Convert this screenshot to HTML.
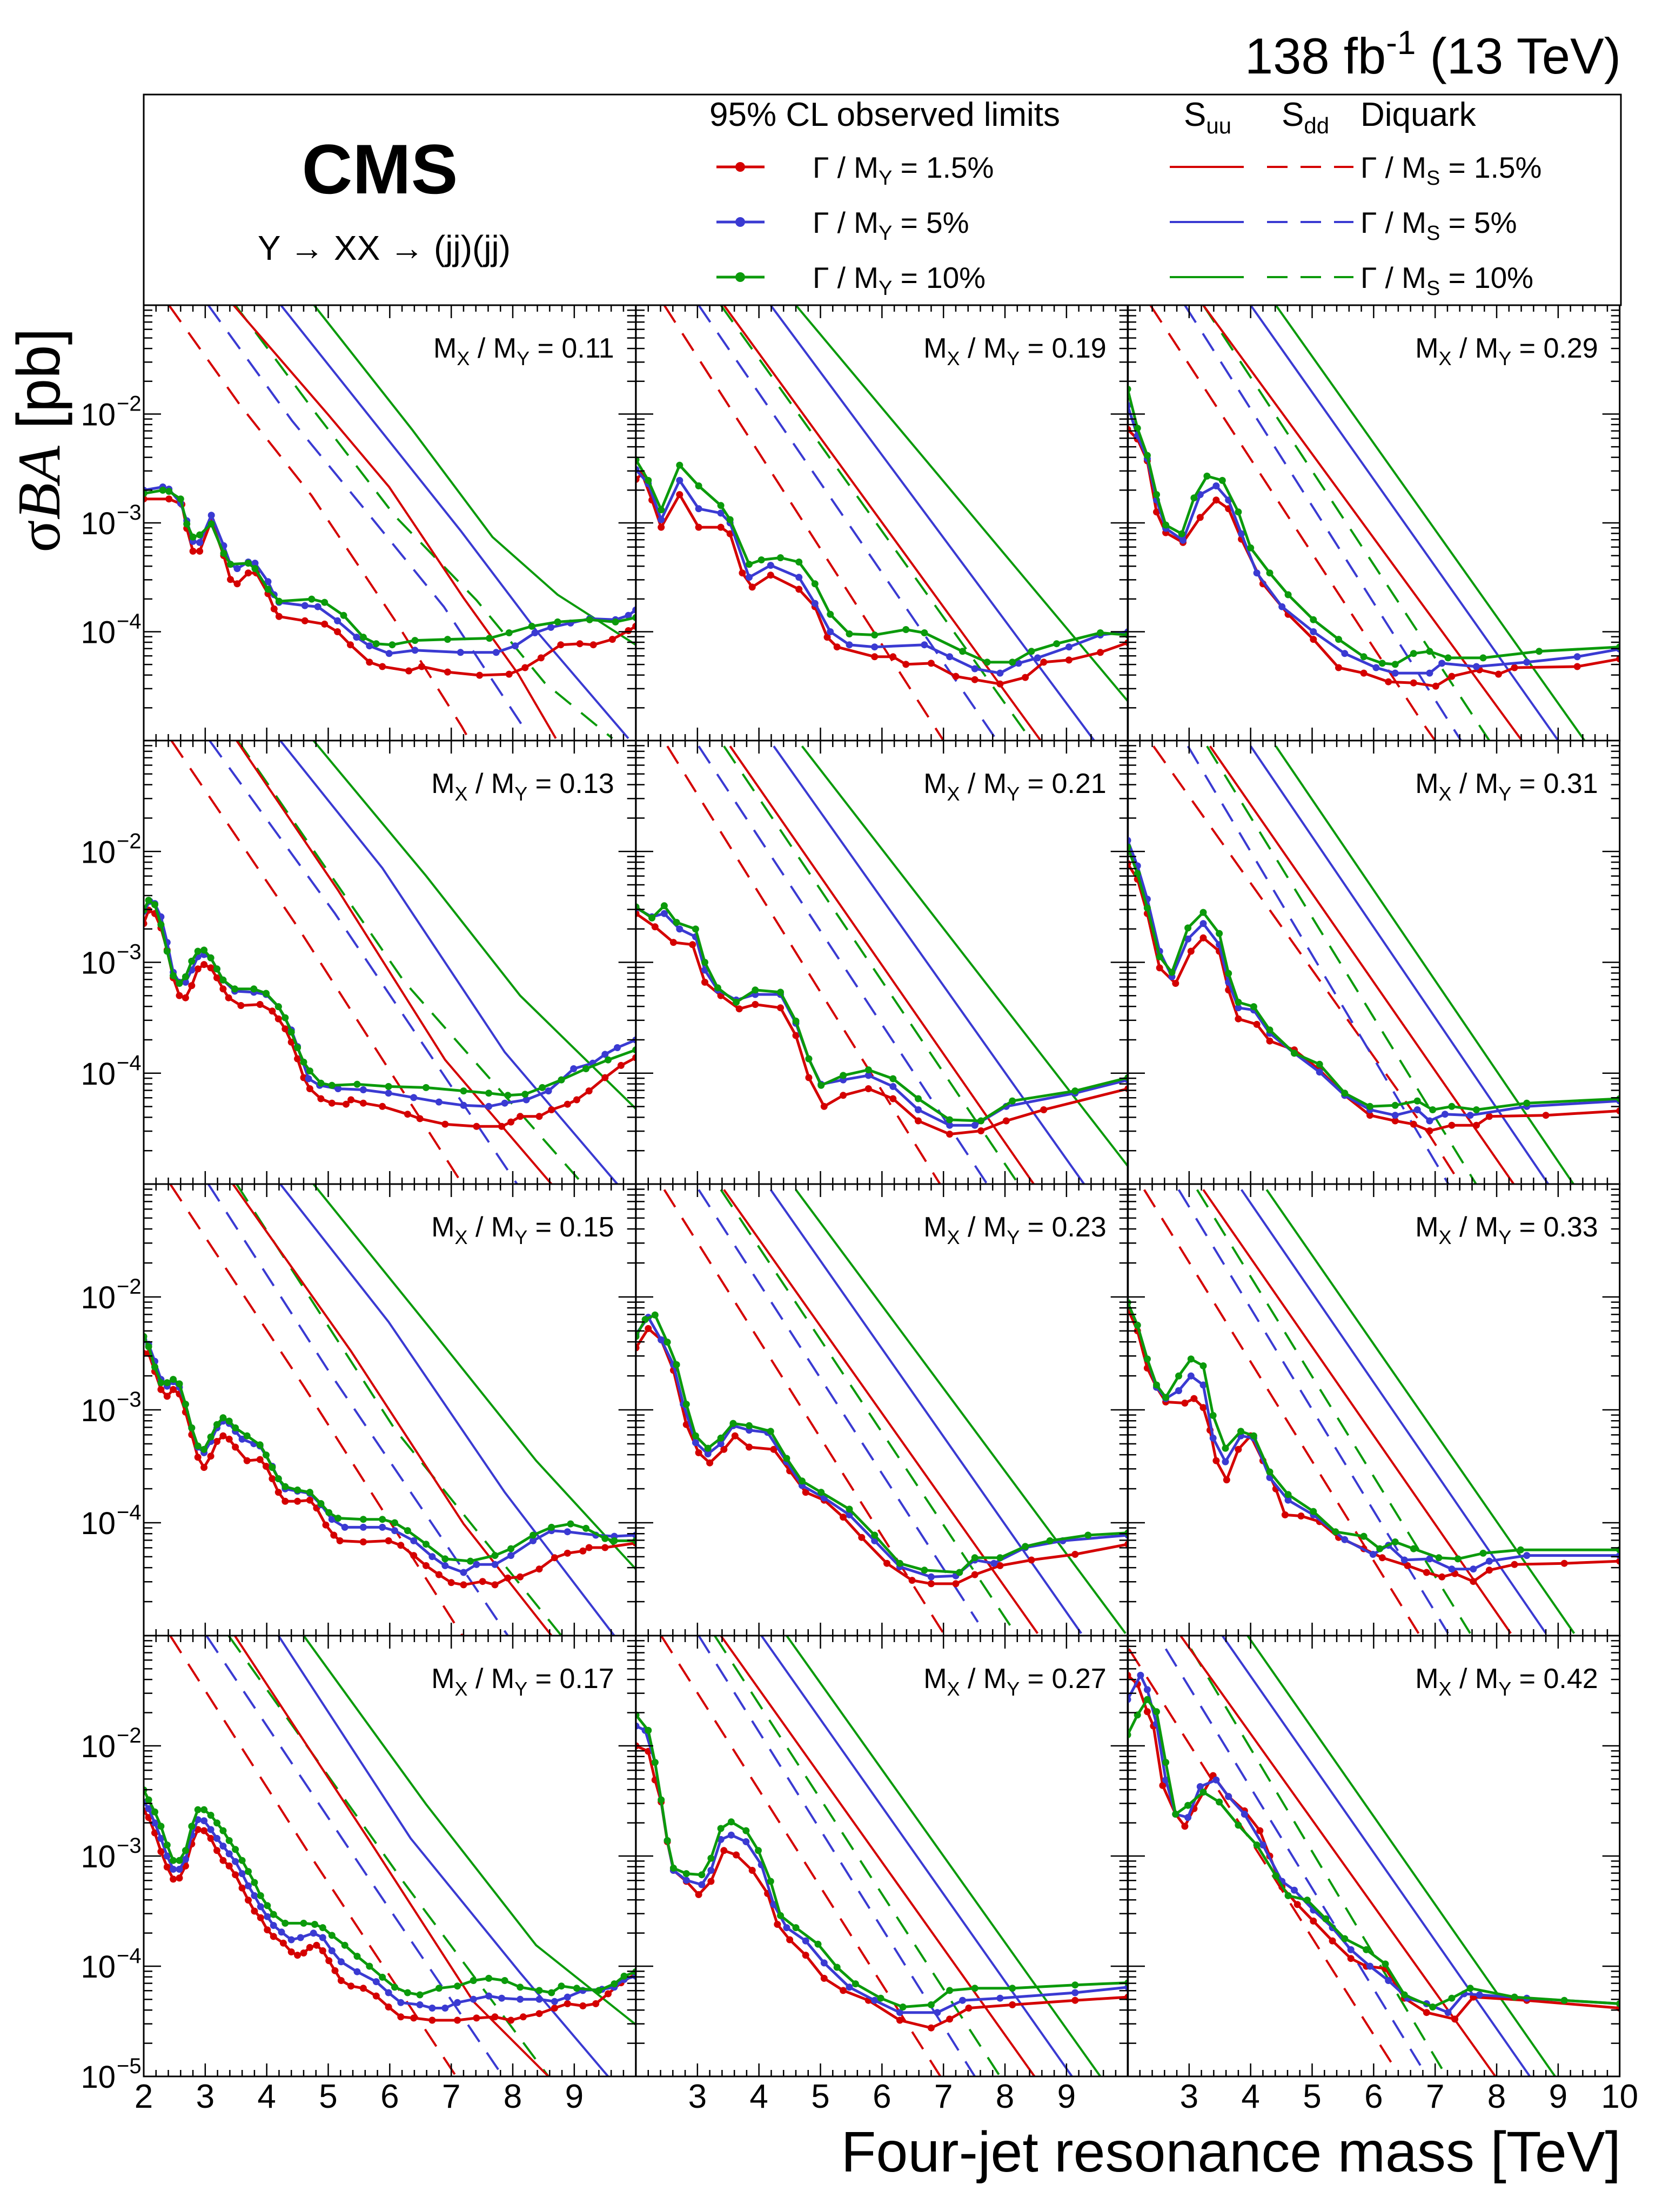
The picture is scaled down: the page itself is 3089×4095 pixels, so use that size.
<!DOCTYPE html>
<html><head><meta charset="utf-8"><title>Y to XX to (jj)(jj) limits</title>
<style>
html,body{margin:0;padding:0;background:#fff;}
svg{display:block;}
text{font-family:"Liberation Sans",sans-serif;fill:#000;}
</style></head>
<body>
<svg id="fig" xmlns="http://www.w3.org/2000/svg" width="3089" height="4095" viewBox="0 0 3089 4095">
  <rect x="0" y="0" width="3089" height="4095" fill="#fff"/>
  <text x="3000" y="136" font-size="94" text-anchor="end">138 fb<tspan dy="-36" font-size="62">-1</tspan><tspan dy="36"> (13 TeV)</tspan></text>
  <g>
    <rect x="266" y="175" width="2734" height="390" fill="none" stroke="#000" stroke-width="3"/>
    <text x="703" y="358" font-size="130" font-weight="bold" text-anchor="middle">CMS</text>
    <text x="711" y="481" font-size="64" text-anchor="middle">Y → XX → (jj)(jj)</text>
    <text x="1313" y="233" font-size="62">95% CL observed limits</text>
    <text x="2191" y="233" font-size="62">S<tspan dy="14" font-size="42">uu</tspan></text>
    <text x="2372" y="233" font-size="62">S<tspan dy="14" font-size="42">dd</tspan></text>
    <text x="2518" y="233" font-size="62">Diquark</text>
  </g>
  <g id="legend-entries"></g>
  <g id="panels"></g>
  <text transform="translate(110,815) rotate(-90)" font-size="112" text-anchor="middle"><tspan font-family="Liberation Serif, serif">σ</tspan><tspan font-family="Liberation Serif, serif" font-style="italic">BA</tspan><tspan> [pb]</tspan></text>
  <text x="3000" y="4020" font-size="106" text-anchor="end">Four-jet resonance mass [TeV]</text>
</svg>
<script>
// ---------- panel labels ----------
const ratioLabels = ['0.11','0.13','0.15','0.17','0.19','0.21','0.23','0.27','0.29','0.31','0.33','0.42'];
// observed limits: [mass TeV, log10(sigma*B*A / pb)]
const p11R=[[2,-2.78],[2.41,-2.78],[2.62,-2.83],[2.7,-3.05],[2.8,-3.26],[2.91,-3.26],[3.1,-2.98],[3.3,-3.30],[3.41,-3.52],[3.52,-3.56],[3.7,-3.46],[3.83,-3.46],[4.02,-3.65],[4.12,-3.79],[4.2,-3.86],[4.62,-3.9],[4.94,-3.93],[5.15,-4.0],[5.36,-4.12],[5.67,-4.28],[5.88,-4.32],[6.31,-4.36],[6.52,-4.32],[6.94,-4.37],[7.46,-4.4],[7.94,-4.39],[8.2,-4.33],[8.46,-4.24],[8.78,-4.12],[9.09,-4.11],[9.31,-4.12],[9.62,-4.07],[9.88,-3.99],[10,-3.95]];
const p11B=[[2,-2.70],[2.31,-2.67],[2.41,-2.69],[2.6,-2.82],[2.7,-2.98],[2.8,-3.17],[2.91,-3.18],[3.1,-2.93],[3.3,-3.21],[3.41,-3.38],[3.52,-3.42],[3.7,-3.36],[3.81,-3.37],[4.02,-3.54],[4.12,-3.66],[4.2,-3.73],[4.62,-3.76],[4.83,-3.77],[5.15,-3.9],[5.46,-4.05],[5.67,-4.13],[5.99,-4.2],[6.41,-4.17],[7.15,-4.19],[7.73,-4.19],[8.04,-4.13],[8.36,-4.01],[8.62,-3.96],[8.94,-3.92],[9.25,-3.88],[9.67,-3.89],[9.88,-3.85],[10,-3.8]];
const p11G=[[2,-2.73],[2.31,-2.7],[2.41,-2.71],[2.6,-2.78],[2.7,-3.01],[2.8,-3.13],[2.91,-3.11],[3.1,-3.01],[3.3,-3.28],[3.41,-3.38],[3.7,-3.37],[3.81,-3.42],[4.02,-3.61],[4.2,-3.72],[4.73,-3.7],[4.94,-3.73],[5.25,-3.85],[5.57,-4.05],[5.78,-4.11],[6.04,-4.12],[6.41,-4.08],[6.94,-4.07],[7.62,-4.06],[7.94,-4.01],[8.31,-3.95],[8.73,-3.91],[9.25,-3.89],[9.67,-3.91],[10,-3.87]];
const p13R=[[2,-2.65],[2.08,-2.53],[2.18,-2.56],[2.28,-2.69],[2.38,-2.89],[2.48,-3.14],[2.58,-3.3],[2.68,-3.32],[2.78,-3.21],[2.88,-3.06],[2.98,-3.02],[3.09,-3.05],[3.19,-3.14],[3.29,-3.24],[3.38,-3.32],[3.58,-3.39],[3.89,-3.38],[4.09,-3.44],[4.19,-3.51],[4.3,-3.6],[4.4,-3.72],[4.5,-3.87],[4.6,-4.04],[4.7,-4.14],[4.88,-4.23],[5.06,-4.27],[5.29,-4.28],[5.37,-4.24],[5.57,-4.27],[5.88,-4.3],[6.29,-4.37],[6.49,-4.41],[6.9,-4.46],[7.41,-4.48],[7.82,-4.48],[7.97,-4.44],[8.12,-4.39],[8.43,-4.39],[8.63,-4.33],[8.89,-4.28],[9.04,-4.24],[9.24,-4.16],[9.5,-4.04],[9.76,-3.93],[10,-3.86]];
const p13B=[[2,-2.54],[2.1,-2.45],[2.18,-2.47],[2.28,-2.59],[2.38,-2.82],[2.48,-3.09],[2.58,-3.18],[2.68,-3.18],[2.78,-3.07],[2.88,-2.95],[2.98,-2.93],[3.09,-2.96],[3.19,-3.06],[3.29,-3.16],[3.48,-3.26],[3.79,-3.27],[3.99,-3.29],[4.19,-3.4],[4.4,-3.61],[4.5,-3.76],[4.68,-4.05],[4.86,-4.11],[5.16,-4.14],[5.57,-4.15],[5.98,-4.18],[6.39,-4.22],[6.8,-4.26],[7.2,-4.29],[7.61,-4.3],[7.87,-4.27],[8.22,-4.24],[8.58,-4.16],[8.79,-4.06],[8.99,-3.96],[9.3,-3.91],[9.5,-3.83],[9.7,-3.77],[10,-3.7]];
const p13G=[[2,-2.53],[2.08,-2.44],[2.18,-2.48],[2.28,-2.66],[2.38,-2.9],[2.48,-3.12],[2.58,-3.19],[2.68,-3.13],[2.78,-2.99],[2.88,-2.9],[2.98,-2.89],[3.09,-2.96],[3.19,-3.06],[3.29,-3.16],[3.48,-3.24],[3.79,-3.24],[3.99,-3.28],[4.19,-3.4],[4.3,-3.5],[4.4,-3.63],[4.5,-3.77],[4.6,-3.9],[4.7,-3.98],[4.88,-4.09],[5.06,-4.11],[5.47,-4.1],[5.98,-4.12],[6.59,-4.13],[7.2,-4.16],[7.61,-4.18],[7.92,-4.2],[8.2,-4.19],[8.48,-4.13],[8.79,-4.06],[9.19,-3.96],[9.55,-3.88],[10,-3.79]];
const p15R=[[2,-2.5],[2.08,-2.5],[2.18,-2.66],[2.28,-2.82],[2.38,-2.88],[2.48,-2.82],[2.58,-2.86],[2.68,-3.02],[2.78,-3.22],[2.88,-3.42],[2.98,-3.51],[3.09,-3.41],[3.19,-3.28],[3.29,-3.23],[3.39,-3.26],[3.49,-3.33],[3.68,-3.45],[3.89,-3.44],[3.99,-3.5],[4.09,-3.61],[4.19,-3.73],[4.3,-3.81],[4.5,-3.81],[4.7,-3.8],[4.81,-3.87],[4.96,-4.02],[5.09,-4.11],[5.19,-4.16],[5.57,-4.17],[5.98,-4.16],[6.18,-4.2],[6.39,-4.29],[6.59,-4.38],[6.8,-4.46],[7.0,-4.53],[7.2,-4.55],[7.51,-4.52],[7.71,-4.55],[7.92,-4.49],[8.12,-4.48],[8.43,-4.41],[8.68,-4.31],[8.89,-4.27],[9.14,-4.25],[9.24,-4.22],[9.5,-4.22],[10,-4.18]];
const p15B=[[2,-2.38],[2.08,-2.42],[2.18,-2.57],[2.28,-2.73],[2.38,-2.79],[2.48,-2.75],[2.58,-2.8],[2.68,-2.95],[2.78,-3.16],[2.88,-3.33],[2.98,-3.38],[3.09,-3.28],[3.19,-3.16],[3.29,-3.1],[3.39,-3.12],[3.49,-3.19],[3.6,-3.26],[3.79,-3.3],[3.89,-3.32],[4.09,-3.5],[4.19,-3.61],[4.3,-3.7],[4.5,-3.72],[4.7,-3.74],[4.88,-3.84],[5.06,-3.97],[5.27,-4.04],[5.57,-4.04],[5.88,-4.04],[6.08,-4.07],[6.39,-4.16],[6.69,-4.3],[6.9,-4.38],[7.2,-4.44],[7.41,-4.37],[7.71,-4.37],[7.97,-4.29],[8.33,-4.16],[8.63,-4.07],[8.89,-4.08],[9.35,-4.11],[9.65,-4.12],[10,-4.11]];
const p15G=[[2,-2.35],[2.08,-2.44],[2.18,-2.62],[2.28,-2.76],[2.38,-2.76],[2.48,-2.73],[2.58,-2.77],[2.68,-2.95],[2.78,-3.16],[2.88,-3.32],[2.98,-3.35],[3.09,-3.24],[3.19,-3.13],[3.29,-3.07],[3.39,-3.1],[3.49,-3.16],[3.68,-3.23],[3.89,-3.31],[3.99,-3.4],[4.09,-3.51],[4.19,-3.61],[4.3,-3.68],[4.5,-3.71],[4.7,-3.73],[4.88,-3.83],[5.01,-3.91],[5.16,-3.96],[5.57,-3.97],[5.88,-3.97],[6.08,-4.0],[6.29,-4.07],[6.59,-4.19],[6.9,-4.32],[7.31,-4.34],[7.71,-4.29],[7.97,-4.23],[8.33,-4.11],[8.63,-4.04],[8.94,-4.01],[9.19,-4.05],[9.5,-4.14],[9.65,-4.16],[10,-4.16]];
const p17R=[[2,-2.59],[2.08,-2.65],[2.18,-2.79],[2.28,-2.96],[2.38,-3.1],[2.48,-3.21],[2.58,-3.2],[2.68,-3.09],[2.78,-2.89],[2.88,-2.76],[2.98,-2.77],[3.09,-2.84],[3.19,-2.95],[3.29,-3.04],[3.39,-3.09],[3.49,-3.17],[3.6,-3.29],[3.7,-3.4],[3.8,-3.5],[3.9,-3.56],[4.01,-3.67],[4.11,-3.73],[4.27,-3.79],[4.4,-3.87],[4.5,-3.9],[4.6,-3.88],[4.7,-3.83],[4.81,-3.81],[4.91,-3.86],[5.01,-3.95],[5.11,-4.04],[5.21,-4.13],[5.37,-4.18],[5.57,-4.2],[5.78,-4.27],[5.98,-4.37],[6.18,-4.46],[6.39,-4.47],[6.69,-4.49],[7.1,-4.49],[7.41,-4.47],[7.71,-4.46],[7.97,-4.49],[8.17,-4.46],[8.43,-4.43],[8.68,-4.38],[8.89,-4.34],[9.14,-4.36],[9.35,-4.34],[9.55,-4.25],[9.76,-4.15],[10,-4.07]];
const p17B=[[2,-2.51],[2.08,-2.57],[2.18,-2.7],[2.28,-2.84],[2.38,-3.0],[2.48,-3.12],[2.58,-3.12],[2.68,-3.03],[2.78,-2.81],[2.88,-2.67],[2.98,-2.68],[3.09,-2.76],[3.19,-2.84],[3.29,-2.91],[3.39,-2.98],[3.49,-3.05],[3.6,-3.16],[3.7,-3.27],[3.8,-3.36],[3.9,-3.46],[4.01,-3.55],[4.11,-3.63],[4.24,-3.69],[4.4,-3.76],[4.55,-3.74],[4.76,-3.7],[4.91,-3.74],[5.06,-3.86],[5.21,-3.96],[5.47,-4.05],[5.78,-4.14],[5.98,-4.24],[6.18,-4.33],[6.49,-4.35],[6.69,-4.38],[6.9,-4.38],[7.1,-4.33],[7.36,-4.3],[7.61,-4.27],[7.82,-4.29],[8.12,-4.3],[8.43,-4.3],[8.68,-4.32],[8.89,-4.28],[9.14,-4.22],[9.45,-4.21],[9.65,-4.19],[9.81,-4.12],[10,-4.09]];
const p17G=[[2,-2.4],[2.08,-2.49],[2.18,-2.6],[2.28,-2.73],[2.38,-2.9],[2.48,-3.04],[2.58,-3.04],[2.68,-2.95],[2.78,-2.73],[2.88,-2.58],[2.98,-2.58],[3.09,-2.63],[3.19,-2.7],[3.29,-2.77],[3.39,-2.86],[3.49,-2.94],[3.6,-3.04],[3.7,-3.14],[3.8,-3.24],[3.9,-3.36],[4.01,-3.45],[4.11,-3.53],[4.3,-3.61],[4.6,-3.61],[4.78,-3.62],[4.91,-3.65],[5.06,-3.72],[5.27,-3.81],[5.47,-3.91],[5.67,-4.0],[5.88,-4.1],[6.08,-4.19],[6.29,-4.24],[6.49,-4.26],[6.8,-4.2],[7.1,-4.18],[7.36,-4.13],[7.61,-4.11],[7.87,-4.13],[8.12,-4.19],[8.43,-4.22],[8.63,-4.24],[8.79,-4.18],[9.04,-4.2],[9.4,-4.22],[9.65,-4.16],[9.81,-4.09],[10,-4.05]];
const p19R=[[2,-2.6],[2.1,-2.55],[2.26,-2.79],[2.41,-3.04],[2.71,-2.74],[3.02,-3.04],[3.38,-3.04],[3.53,-3.1],[3.73,-3.46],[3.89,-3.59],[4.19,-3.48],[4.65,-3.61],[4.91,-3.77],[5.11,-4.05],[5.27,-4.14],[5.88,-4.23],[6.18,-4.23],[6.39,-4.3],[6.8,-4.29],[7.2,-4.41],[7.51,-4.44],[7.92,-4.48],[8.33,-4.42],[8.63,-4.28],[9.04,-4.26],[9.55,-4.19],[10,-4.1]];
const p19B=[[2,-2.51],[2.2,-2.64],[2.41,-2.97],[2.71,-2.61],[3.02,-2.87],[3.38,-2.91],[3.53,-3.0],[3.84,-3.5],[4.19,-3.39],[4.65,-3.5],[4.91,-3.74],[5.16,-4.0],[5.47,-4.12],[5.88,-4.14],[6.69,-4.12],[7.1,-4.23],[7.51,-4.34],[7.92,-4.38],[8.22,-4.29],[8.53,-4.24],[9.04,-4.14],[9.55,-4.03],[10,-4.0]];
const p19G=[[2,-2.42],[2.2,-2.61],[2.41,-2.88],[2.71,-2.47],[3.02,-2.66],[3.38,-2.84],[3.53,-2.97],[3.84,-3.38],[4.04,-3.34],[4.35,-3.32],[4.65,-3.36],[4.91,-3.56],[5.16,-3.84],[5.47,-4.02],[5.88,-4.03],[6.39,-3.98],[6.69,-4.01],[7.31,-4.18],[7.71,-4.28],[8.12,-4.28],[8.43,-4.18],[8.84,-4.11],[9.55,-4.01],[10,-4.03]];
const p21R=[[2,-2.56],[2.31,-2.68],[2.61,-2.82],[2.92,-2.84],[3.12,-3.18],[3.38,-3.3],[3.68,-3.42],[3.94,-3.38],[4.35,-3.41],[4.6,-3.66],[4.81,-4.04],[5.06,-4.3],[5.37,-4.2],[5.78,-4.14],[6.18,-4.23],[6.59,-4.43],[7.1,-4.55],[7.61,-4.52],[8.02,-4.43],[8.63,-4.33],[10,-4.14]];
const p21B=[[2,-2.51],[2.26,-2.59],[2.46,-2.56],[2.71,-2.7],[2.97,-2.77],[3.12,-3.07],[3.33,-3.25],[3.63,-3.34],[3.94,-3.29],[4.35,-3.29],[4.6,-3.55],[4.81,-3.87],[5.01,-4.1],[5.37,-4.06],[5.78,-4.02],[6.18,-4.12],[6.59,-4.33],[7.1,-4.47],[7.51,-4.47],[8.02,-4.3],[9.14,-4.18],[10,-4.06]];
const p21G=[[2,-2.5],[2.26,-2.6],[2.46,-2.49],[2.66,-2.64],[2.97,-2.7],[3.12,-3.0],[3.33,-3.23],[3.63,-3.36],[3.94,-3.25],[4.35,-3.27],[4.6,-3.53],[4.81,-3.87],[5.01,-4.11],[5.37,-4.02],[5.78,-3.97],[6.18,-4.05],[6.59,-4.23],[7.1,-4.42],[7.61,-4.43],[8.12,-4.25],[9.14,-4.16],[10,-4.04]];
const p23R=[[2,-2.45],[2.2,-2.28],[2.41,-2.38],[2.61,-2.65],[2.82,-3.13],[3.02,-3.38],[3.2,-3.47],[3.43,-3.35],[3.61,-3.23],[3.84,-3.33],[4.24,-3.35],[4.5,-3.54],[4.76,-3.73],[5.06,-3.8],[5.37,-3.95],[5.67,-4.13],[6.08,-4.36],[6.49,-4.51],[6.8,-4.54],[7.2,-4.54],[7.51,-4.46],[7.92,-4.38],[8.43,-4.33],[9.14,-4.28],[10,-4.19]];
const p23B=[[2,-2.33],[2.2,-2.18],[2.41,-2.38],[2.61,-2.6],[2.77,-2.95],[2.97,-3.29],[3.17,-3.39],[3.38,-3.3],[3.58,-3.14],[3.84,-3.18],[4.14,-3.2],[4.45,-3.46],[4.7,-3.67],[5.06,-3.78],[5.47,-3.93],[5.88,-4.16],[6.29,-4.39],[6.8,-4.48],[7.2,-4.47],[7.51,-4.33],[7.82,-4.36],[8.33,-4.22],[8.94,-4.16],[10,-4.11]];
const p23G=[[2,-2.35],[2.15,-2.2],[2.31,-2.16],[2.51,-2.4],[2.66,-2.6],[2.82,-2.95],[2.97,-3.23],[3.17,-3.34],[3.38,-3.25],[3.58,-3.12],[3.84,-3.14],[4.19,-3.19],[4.45,-3.43],[4.7,-3.63],[5.01,-3.73],[5.47,-3.88],[5.88,-4.11],[6.29,-4.36],[6.69,-4.42],[7.26,-4.44],[7.51,-4.31],[7.92,-4.31],[8.33,-4.21],[8.73,-4.16],[9.35,-4.11],[10,-4.09]];
const p27R=[[2,-2.0],[2.2,-2.05],[2.31,-2.31],[2.41,-2.51],[2.51,-2.87],[2.61,-3.13],[2.82,-3.23],[3.02,-3.35],[3.22,-3.23],[3.43,-2.95],[3.63,-2.99],[3.89,-3.13],[4.14,-3.34],[4.3,-3.62],[4.5,-3.76],[4.76,-3.9],[5.06,-4.11],[5.37,-4.22],[5.78,-4.31],[6.29,-4.49],[6.8,-4.56],[7.1,-4.48],[7.41,-4.38],[8.12,-4.35],[9.14,-4.31],[10,-4.28]];
const p27B=[[2,-1.82],[2.15,-1.86],[2.31,-2.15],[2.51,-2.86],[2.61,-3.13],[2.82,-3.22],[3.07,-3.26],[3.22,-3.13],[3.38,-2.85],[3.55,-2.81],[3.79,-2.87],[4.04,-3.08],[4.24,-3.44],[4.45,-3.65],[4.76,-3.77],[5.06,-3.97],[5.47,-4.19],[5.88,-4.31],[6.29,-4.42],[6.9,-4.42],[7.31,-4.31],[7.92,-4.29],[9.14,-4.24],[10,-4.19]];
const p27G=[[2,-1.72],[2.2,-1.86],[2.31,-2.15],[2.41,-2.49],[2.51,-2.86],[2.61,-3.11],[2.82,-3.16],[3.07,-3.17],[3.22,-3.02],[3.38,-2.75],[3.55,-2.69],[3.79,-2.77],[3.99,-2.95],[4.19,-3.23],[4.35,-3.54],[4.6,-3.65],[4.96,-3.8],[5.27,-4.01],[5.57,-4.16],[5.98,-4.29],[6.34,-4.37],[6.8,-4.35],[7.1,-4.22],[7.51,-4.2],[8.12,-4.2],[9.14,-4.17],[10,-4.15]];
const p29R=[[2,-2.14],[2.16,-2.23],[2.32,-2.43],[2.47,-2.9],[2.62,-3.09],[2.9,-3.18],[3.18,-2.95],[3.44,-2.79],[3.64,-2.87],[3.85,-3.15],[4.2,-3.56],[4.61,-3.84],[5.02,-4.07],[5.43,-4.33],[5.84,-4.38],[6.24,-4.46],[6.65,-4.47],[7.01,-4.5],[7.27,-4.41],[7.72,-4.35],[8.03,-4.39],[8.29,-4.33],[9.31,-4.32],[10,-4.25]];
const p29B=[[2,-1.92],[2.16,-2.2],[2.32,-2.41],[2.47,-2.79],[2.62,-3.05],[2.9,-3.16],[3.18,-2.74],[3.44,-2.66],[3.64,-2.79],[3.85,-3.1],[4.1,-3.46],[4.51,-3.77],[5.02,-4.0],[5.53,-4.2],[6.04,-4.33],[6.35,-4.38],[6.91,-4.38],[7.11,-4.29],[7.67,-4.32],[8.49,-4.28],[9.31,-4.23],[10,-4.16]];
const p29G=[[2,-1.77],[2.16,-2.13],[2.32,-2.38],[2.47,-2.74],[2.62,-3.02],[2.88,-3.1],[3.08,-2.77],[3.29,-2.57],[3.54,-2.61],[3.8,-2.9],[4.0,-3.23],[4.31,-3.46],[4.61,-3.66],[5.02,-3.89],[5.43,-4.07],[5.84,-4.23],[6.14,-4.29],[6.35,-4.3],[6.65,-4.2],[6.91,-4.18],[7.21,-4.24],[7.78,-4.24],[8.69,-4.18],[10,-4.14]];
const p31R=[[2,-2.11],[2.16,-2.25],[2.32,-2.56],[2.52,-3.05],[2.78,-3.19],[3.03,-2.9],[3.23,-2.78],[3.49,-2.9],[3.64,-3.25],[3.8,-3.51],[4.1,-3.56],[4.31,-3.71],[4.71,-3.79],[5.12,-3.97],[5.53,-4.2],[5.94,-4.38],[6.35,-4.43],[6.65,-4.46],[6.91,-4.52],[7.27,-4.47],[7.67,-4.47],[7.88,-4.39],[8.8,-4.38],[10,-4.34]];
const p31B=[[2,-1.9],[2.16,-2.13],[2.32,-2.43],[2.52,-2.9],[2.72,-3.13],[2.98,-2.79],[3.23,-2.65],[3.49,-2.84],[3.64,-3.18],[3.8,-3.41],[4.05,-3.43],[4.31,-3.64],[4.71,-3.82],[5.12,-3.99],[5.53,-4.2],[5.94,-4.33],[6.35,-4.38],[6.71,-4.33],[6.91,-4.43],[7.16,-4.37],[7.57,-4.38],[8.49,-4.3],[10,-4.25]];
const p31G=[[2,-1.96],[2.16,-2.2],[2.32,-2.51],[2.52,-2.95],[2.72,-3.09],[2.98,-2.69],[3.23,-2.55],[3.49,-2.74],[3.64,-3.1],[3.8,-3.36],[4.05,-3.4],[4.31,-3.61],[4.71,-3.82],[5.12,-3.92],[5.53,-4.18],[5.94,-4.3],[6.35,-4.29],[6.71,-4.25],[6.96,-4.33],[7.27,-4.3],[7.67,-4.33],[8.49,-4.27],[10,-4.23]];
const p33R=[[2,-2.1],[2.16,-2.3],[2.32,-2.63],[2.47,-2.8],[2.62,-2.93],[2.93,-2.94],[3.08,-2.9],[3.23,-2.98],[3.34,-3.18],[3.44,-3.45],[3.61,-3.62],[3.8,-3.35],[4.0,-3.23],[4.2,-3.45],[4.41,-3.7],[4.56,-3.93],[4.82,-3.94],[5.12,-3.99],[5.43,-4.13],[5.84,-4.23],[6.14,-4.31],[6.55,-4.38],[6.86,-4.44],[7.11,-4.48],[7.32,-4.45],[7.62,-4.52],[7.88,-4.42],[8.29,-4.37],[9.1,-4.36],[10,-4.34]];
const p33B=[[2,-2.05],[2.16,-2.25],[2.32,-2.55],[2.47,-2.8],[2.62,-2.9],[2.83,-2.83],[3.03,-2.7],[3.23,-2.78],[3.39,-3.25],[3.59,-3.46],[3.84,-3.23],[4.05,-3.25],[4.31,-3.6],[4.61,-3.8],[5.02,-3.93],[5.53,-4.15],[5.99,-4.28],[6.24,-4.2],[6.5,-4.33],[6.91,-4.32],[7.27,-4.41],[7.62,-4.41],[7.88,-4.34],[8.49,-4.29],[10,-4.29]];
const p33G=[[2,-2.05],[2.16,-2.25],[2.32,-2.55],[2.47,-2.78],[2.62,-2.89],[2.83,-2.7],[3.03,-2.55],[3.23,-2.61],[3.39,-3.05],[3.59,-3.34],[3.84,-3.19],[4.05,-3.23],[4.31,-3.55],[4.61,-3.75],[5.02,-3.9],[5.38,-4.08],[5.84,-4.12],[6.1,-4.23],[6.35,-4.17],[6.65,-4.23],[7.06,-4.31],[7.37,-4.32],[7.78,-4.27],[8.39,-4.24],[10,-4.24]];
const p42R=[[2,-1.36],[2.16,-1.44],[2.32,-1.69],[2.42,-1.82],[2.57,-2.36],[2.78,-2.62],[2.93,-2.73],[3.08,-2.57],[3.39,-2.27],[3.64,-2.46],[3.9,-2.59],[4.15,-2.77],[4.31,-3.0],[4.51,-3.28],[4.76,-3.44],[5.02,-3.59],[5.33,-3.77],[5.63,-3.93],[5.88,-4.0],[6.19,-4.02],[6.5,-4.29],[6.86,-4.42],[7.32,-4.48],[7.62,-4.28],[8.49,-4.31],[10,-4.38]];
const p42B=[[2,-1.58],[2.21,-1.36],[2.32,-1.49],[2.47,-1.8],[2.62,-2.31],[2.78,-2.62],[2.98,-2.65],[3.18,-2.37],[3.44,-2.31],[3.64,-2.46],[3.9,-2.62],[4.2,-2.9],[4.51,-3.23],[4.71,-3.31],[5.02,-3.49],[5.33,-3.65],[5.63,-3.85],[5.94,-4.0],[6.24,-4.13],[6.55,-4.29],[6.86,-4.34],[7.21,-4.42],[7.47,-4.25],[7.72,-4.26],[8.49,-4.29],[10,-4.34]];
const p42G=[[2,-1.9],[2.16,-1.72],[2.32,-1.58],[2.47,-1.69],[2.62,-2.15],[2.78,-2.62],[2.98,-2.54],[3.23,-2.42],[3.49,-2.51],[3.8,-2.72],[4.1,-2.9],[4.41,-3.18],[4.61,-3.36],[4.92,-3.4],[5.22,-3.57],[5.53,-3.75],[5.88,-3.85],[6.19,-3.98],[6.5,-4.26],[6.96,-4.37],[7.27,-4.29],[7.57,-4.2],[8.29,-4.28],[9.1,-4.31],[10,-4.34]];
const obsRed=[p11R,p13R,p15R,p17R,p19R,p21R,p23R,p27R,p29R,p31R,p33R,p42R];
const obsBlue=[p11B,p13B,p15B,p17B,p19B,p21B,p23B,p27B,p29B,p31B,p33B,p42B];
const obsGreen=[p11G,p13G,p15G,p17G,p19G,p21G,p23G,p27G,p29G,p31G,p33G,p42G];
// theory (S_uu solid / S_dd dashed) per panel: [mass, log10 sigma]
const thSolidRed=[
 [[3.46,-1],[4.99,-2.0],[5.99,-2.67],[7.2,-3.69],[8.09,-4.39],[8.7,-4.98]],
 [[3.51,-1],[5.16,-2.35],[6.9,-3.88],[8.63,-5]],
 [[3.45,-1],[5.37,-2.48],[7.2,-4.01],[8.63,-5]],
 [[3.48,-1],[5.67,-2.86],[7.36,-4.32],[8.58,-5]],
 [[3.43,-1],[8.58,-5]],[[3.53,-1.05],[8.53,-5.05]],[[3.43,-1.05],[8.53,-4.98]],[[3.38,-1],[8.48,-5]],
 [[3.23,-1],[8.41,-5]],[[3.34,-1.05],[8.34,-5.05]],[[3.23,-1.05],[8.23,-4.98]],[[2.86,-1],[7.98,-5]]];
const thSolidBlue=[
 [[4.23,-1],[5.57,-1.95],[7.15,-3.07],[8.41,-4.01],[9.88,-4.98]],
 [[4.22,-1],[5.88,-2.15],[7.87,-3.81],[9.7,-5]],
 [[4.22,-1],[5.98,-2.22],[7.87,-3.73],[9.65,-5]],
 [[4.19,-1],[6.34,-2.84],[8.12,-4.06],[9.55,-5]],
 [[4.19,-1],[9.45,-5]],[[4.24,-1.05],[9.35,-5.05]],[[4.19,-1.05],[9.24,-4.98]],[[4.04,-1],[9.09,-5]],
 [[4.0,-1],[9.0,-5]],[[4.0,-1.05],[8.9,-5.05]],[[3.85,-1.05],[8.8,-4.98]],[[3.54,-1],[8.54,-5]]];
const thSolidGreen=[
 [[4.77,-1],[6.36,-2.14],[7.67,-3.13],[8.73,-3.66],[10,-4.12]],
 [[4.76,-1],[6.59,-2.22],[8.12,-3.3],[10,-4.32]],
 [[4.76,-1],[6.69,-2.3],[8.38,-3.45],[10,-4.41]],
 [[4.6,-1],[6.59,-2.53],[8.38,-3.81],[10,-4.53]],
 [[4.6,-1],[10,-4.64]],[[4.7,-1.05],[10,-4.84]],[[4.6,-1.05],[9.96,-4.98]],[[4.45,-1],[9.55,-5]],
 [[4.41,-1],[9.43,-5]],[[4.41,-1.05],[9.31,-5.05]],[[4.26,-1.05],[9.26,-4.98]],[[3.95,-1],[8.95,-5]]];
const thDashRed=[
 [[2.41,-1],[3.57,-1.92],[4.73,-2.75],[6.09,-3.9],[7.17,-4.87],[7.3,-5]],
 [[2.45,-1],[4.5,-2.68],[7.18,-5]],
 [[2.43,-1],[4.6,-2.79],[7.18,-5]],
 [[2.43,-1],[4.76,-3.04],[7.08,-5]],
 [[2.46,-1],[7.0,-5]],[[2.51,-1.05],[7.0,-5.05]],[[2.46,-1.05],[7.0,-4.98]],[[2.41,-1],[6.95,-5]],
 [[2.37,-1],[6.8,-4.84],[7.0,-5]],[[2.42,-1.05],[6.91,-4.56],[7.47,-5.05]],[[2.27,-1.05],[6.73,-4.98]],[[2.02,-1.12],[6.35,-4.93]]];
const thDashBlue=[
 [[3.05,-1],[4.41,-2.06],[5.57,-2.86],[6.88,-3.77],[8.2,-4.9]],
 [[3.07,-1],[5.11,-2.56],[8.07,-5]],
 [[3.05,-1],[5.01,-2.66],[7.92,-5]],
 [[3.02,-1],[5.62,-3.17],[7.84,-5]],
 [[3.02,-1],[7.87,-5]],[[3.02,-1.05],[7.71,-5]],[[3.02,-1.05],[7.56,-4.88]],[[3.02,-1],[7.51,-5]],
 [[2.93,-1],[7.42,-5]],[[2.98,-1.05],[7.27,-5.05]],[[2.83,-1.05],[7.21,-4.98]],[[2.62,-1.12],[6.76,-4.9]]];
const thDashGreen=[
 [[3.49,-1],[4.78,-1.98],[6.09,-2.94],[7.41,-3.71],[8.52,-4.47],[9.62,-4.98]],
 [[3.53,-1],[6.23,-3.17],[9.14,-5]],
 [[3.51,-1],[6.08,-3.17],[8.79,-5]],
 [[3.38,-1],[6.23,-3.24],[8.58,-5]],
 [[3.38,-1],[8.43,-5]],[[3.43,-1.05],[8.28,-5.05]],[[3.38,-1.05],[8.17,-4.98]],[[3.28,-1],[7.92,-5]],
 [[3.23,-1],[7.88,-5]],[[3.29,-1.05],[7.72,-5.05]],[[3.13,-1.05],[7.57,-4.98]],[[3.03,-1.12],[7.11,-4.93]]];
const xTickLabels=[['2','3','4','5','6','7','8','9'],['3','4','5','6','7','8','9'],['3','4','5','6','7','8','9','10']];
const yTickExps=['-2','-3','-4'];
const legendWidths=['1.5%','5%','10%'];

// ---------- geometry ----------
const NS='http://www.w3.org/2000/svg';
const COLS_X=[266,1177,2087], COL_W=910.7;
const ROWS_Y=[565,1371,2192,3028], ROWS_H=[806,821,836,816];
const RED='#d40000', BLUE='#3a3ad2', GREEN='#0b9a0b';
function xOf(c,m){return COLS_X[c]+(m-2)/8*COL_W;}
function yOf(r,lg){return ROWS_Y[r]+(-1-lg)/4*ROWS_H[r];}
function mk(tag,attrs,parent){const e=document.createElementNS(NS,tag);for(const k in attrs)e.setAttribute(k,attrs[k]);parent.appendChild(e);return e;}

const panelsG=document.getElementById('panels');
const defs=mk('defs',{},document.getElementById('fig'));

for(let i=0;i<12;i++){
  const c=Math.floor(i/4), r=i%4;
  const x0=COLS_X[c], y0=ROWS_Y[r], w=COL_W, h=ROWS_H[r];
  const g=mk('g',{},panelsG);
  
  
  const cp=mk('clipPath',{id:'cp'+i},defs);
  mk('rect',{x:x0,y:y0,width:w,height:h},cp);
  const plot=mk('g',{'clip-path':'url(#cp'+i+')'},g);
  
  
  const th=[[thDashRed,RED,true,'theory-sdd-1p5'],[thDashBlue,BLUE,true,'theory-sdd-5'],[thDashGreen,GREEN,true,'theory-sdd-10'],
            [thSolidRed,RED,false,'theory-suu-1p5'],[thSolidBlue,BLUE,false,'theory-suu-5'],[thSolidGreen,GREEN,false,'theory-suu-10']];
  for(const [arr,col,dash,nm] of th){
    const pts=arr[i].map(p=>xOf(c,p[0]).toFixed(1)+','+yOf(r,p[1]).toFixed(1)).join(' ');
    const pl=mk('polyline',{points:pts,fill:'none',stroke:col,'stroke-width':4,'stroke-dasharray':dash?'38 24':'none'},plot);
    
    
  }
  const ob=[[obsRed,RED,'observed-1p5'],[obsBlue,BLUE,'observed-5'],[obsGreen,GREEN,'observed-10']];
  for(const [arr,col,nm] of ob){
    const og=mk('g',{},plot);
    
    
    const pts=arr[i].map(p=>xOf(c,p[0]).toFixed(1)+','+yOf(r,p[1]).toFixed(1)).join(' ');
    mk('polyline',{points:pts,fill:'none',stroke:col,'stroke-width':5,'stroke-linejoin':'round'},og);
    for(const p of arr[i]){
      const dot=mk('circle',{cx:xOf(c,p[0]).toFixed(1),cy:yOf(r,p[1]).toFixed(1),r:6.5,fill:col},og);
      
      
    }
  }
  const tk=mk('g',{stroke:'#000','stroke-width':2.5},g);
  
  
  for(let k=0;k<=40;k++){
    const m=2+k*0.2, xx=xOf(c,m), L=(k%5===0)?24:12;
    mk('line',{x1:xx,y1:y0+h,x2:xx,y2:y0+h-L},tk);
    mk('line',{x1:xx,y1:y0,x2:xx,y2:y0+L},tk);
  }
  for(let d=-5;d<-1;d++){
    for(let s=1;s<=9;s++){
      const lg=d+Math.log10(s); const yy=yOf(r,lg); const L=(s===1)?32:16;
      if(yy<y0-0.5||yy>y0+h+0.5) continue;
      mk('line',{x1:x0,y1:yy,x2:x0+L,y2:yy},tk);
      mk('line',{x1:x0+w,y1:yy,x2:x0+w-L,y2:yy},tk);
    }
  }
  mk('rect',{x:x0,y:y0,width:w,height:h,fill:'none',stroke:'#000','stroke-width':3},g);
  const lt=mk('text',{x:x0+w-40,y:y0+97,'font-size':52,'text-anchor':'end'},g);
  
  
  lt.innerHTML='M<tspan dy="14" font-size="36">X</tspan><tspan dy="-14"> / M</tspan><tspan dy="14" font-size="36">Y</tspan><tspan dy="-14"> = '+ratioLabels[i]+'</tspan>';
  if(c===0){
    yTickExps.forEach(e=>{
      const yy=yOf(r,parseFloat(e));
      const t=mk('text',{x:214,y:yy+21,'font-size':58,'text-anchor':'end'},panelsG);
      
      
      t.textContent='10';
      const s=mk('text',{x:216,y:yy-6,'font-size':40},panelsG);
      
      
      s.textContent=e.replace('-','−');
    });
    if(r===3){
      const yy=yOf(r,-5);
      const t=mk('text',{x:214,y:yy+21,'font-size':58,'text-anchor':'end'},panelsG);
      
      
      t.textContent='10';
      const s=mk('text',{x:216,y:yy-6,'font-size':40},panelsG);
      
      
      s.textContent='−5';
    }
  }
  if(r===3){
    xTickLabels[c].forEach(lab=>{
      const t=mk('text',{x:xOf(c,parseFloat(lab)),y:3902,'font-size':62,'text-anchor':'middle'},panelsG);
      
      
      t.textContent=lab;
    });
  }
}

// ---------- legend entries ----------
const lg=document.getElementById('legend-entries');
const legendCols=[RED,BLUE,GREEN];
const legendY=[309,411,513];
legendWidths.forEach((wd,k)=>{
  const y=legendY[k], col=legendCols[k];
  const e1=mk('g',{},lg);
  
  
  mk('line',{x1:1326,y1:y,x2:1415,y2:y,stroke:col,'stroke-width':5},e1);
  mk('circle',{cx:1370,cy:y,r:9,fill:col},e1);
  const t1=mk('text',{x:1504,y:y+20,'font-size':55},e1);
  t1.innerHTML='Γ / M<tspan dy="13" font-size="38">Y</tspan><tspan dy="-13"> = '+wd+'</tspan>';
  const e2=mk('g',{},lg);
  
  
  mk('line',{x1:2165,y1:y,x2:2302,y2:y,stroke:col,'stroke-width':4},e2);
  mk('line',{x1:2345,y1:y,x2:2505,y2:y,stroke:col,'stroke-width':4,'stroke-dasharray':'38 24'},e2);
  const t2=mk('text',{x:2518,y:y+20,'font-size':55},e2);
  t2.innerHTML='Γ / M<tspan dy="13" font-size="38">S</tspan><tspan dy="-13"> = '+wd+'</tspan>';
});
</script>
</body></html>
